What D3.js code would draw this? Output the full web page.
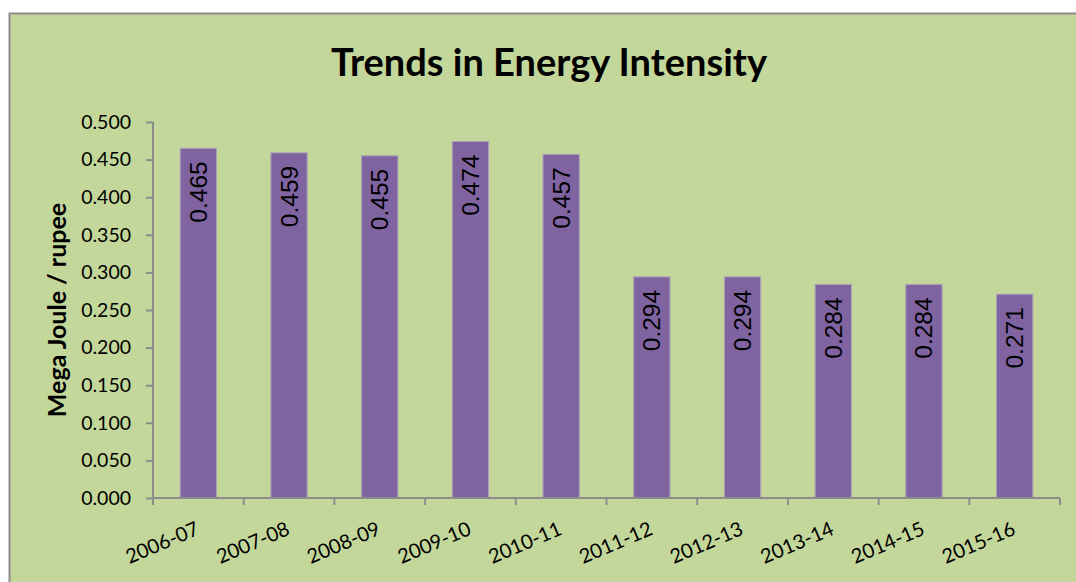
<!DOCTYPE html>
<html>
  <head>
    <meta charset="utf-8">
    <title>Trends in Energy Intensity</title>
    <script type="text/javascript" src="https://d3js.org/d3.v7.min.js"></script>
    <style media="screen">
      body { margin: 0; background: #fff; }
      svg { display: block; }
    </style>
  </head>
  <body>
    <div class="vis"></div>
    <script type="text/javascript">
      var years = ["2006-07", "2007-08", "2008-09", "2009-10", "2010-11",
                   "2011-12", "2012-13", "2013-14", "2014-15", "2015-16"];
      var intensity = [0.465, 0.459, 0.455, 0.474, 0.457,
                       0.294, 0.294, 0.284, 0.284, 0.271];
      var yTicks = [0, 0.05, 0.1, 0.15, 0.2, 0.25, 0.3, 0.35, 0.4, 0.45, 0.5];

      var w = 1076;
      var h = 582;
      var plotL = 153, plotR = 1060, plotT = 122, plotB = 498;

      var dataset = years.map(function(y, i) { return {year: y, value: intensity[i]}; });

      var svg = d3.select('.vis')
        .append('svg')
        .attr('width', w)
        .attr('height', h);

      // chart area
      svg.append('rect')
        .attr('x', 9.5).attr('y', 13.5)
        .attr('width', w).attr('height', h)
        .attr('fill', '#c4d79b')
        .attr('stroke', '#8c8c8c')
        .attr('stroke-width', 2);

      var xscale = d3.scaleBand()
        .domain(years)
        .range([plotL, plotR])
        .paddingInner(0.6)
        .paddingOuter(0.3);

      var yscale = d3.scaleLinear()
        .domain([0, 0.5])
        .range([plotB, plotT]);

      svg.append('text')
        .attr('x', 549).attr('y', 76)
        .attr('text-anchor', 'middle')
        .style('font-family', 'Lato, "Open Sans", sans-serif')
        .style('font-weight', 'bold')
        .style('font-size', '38px')
        .text('Trends in Energy Intensity');

      svg.selectAll('rect.bar')
        .data(dataset)
        .enter()
        .append('rect')
        .attr('class', 'bar')
        .attr('x', function(d) { return xscale(d.year); })
        .attr('y', function(d) { return yscale(d.value); })
        .attr('width', xscale.bandwidth())
        .attr('height', function(d) { return plotB - yscale(d.value); })
        .attr('fill', '#8064a2')
        .attr('stroke', '#a9a0b8')
        .attr('stroke-width', 1);

      svg.selectAll('text.val')
        .data(dataset)
        .enter()
        .append('text')
        .attr('class', 'val')
        .attr('transform', function(d) {
          var cx = xscale(d.year) + xscale.bandwidth() / 2;
          return 'translate(' + (cx + 8.5) + ',' + (yscale(d.value) + 13) + ') rotate(-90)';
        })
        .attr('text-anchor', 'end')
        .style('font-family', '"Liberation Sans", Arial, sans-serif')
        .style('font-size', '24.5px')
        .text(function(d) { return d3.format('.3f')(d.value); });

      var yAxis = d3.axisLeft(yscale)
        .tickValues(yTicks)
        .tickFormat(d3.format('.3f'))
        .tickSize(7)
        .tickPadding(15);

      var xAxis = d3.axisBottom(xscale)
        .tickSize(0)
        .tickFormat('');

      var gy = svg.append('g')
        .attr('transform', 'translate(' + plotL + ',0)')
        .call(yAxis);
      gy.select('.domain').attr('d', 'M0,' + plotT + 'V' + plotB);

      var gx = svg.append('g')
        .attr('transform', 'translate(0,' + plotB + ')')
        .call(xAxis);
      gx.select('.domain').attr('d', 'M' + plotL + ',0H' + plotR);

      // category boundary ticks
      var step = xscale.step();
      gx.selectAll('line.sep')
        .data(d3.range(years.length + 1))
        .enter()
        .append('line')
        .attr('class', 'sep')
        .attr('x1', function(i) { return plotL + i * step; })
        .attr('x2', function(i) { return plotL + i * step; })
        .attr('y1', 0).attr('y2', 7);

      svg.selectAll('.domain, .tick line, line.sep')
        .attr('stroke', '#8c8c8c')
        .attr('stroke-width', 2);

      gy.selectAll('.tick text')
        .style('font-family', 'Lato, "Open Sans", sans-serif')
        .style('font-size', '19.5px')
        .attr('fill', '#000');

      gx.selectAll('.tick text').remove();
      svg.selectAll('text.xl')
        .data(years)
        .enter()
        .append('text')
        .attr('class', 'xl')
        .attr('transform', function(d) {
          return 'translate(' + (xscale(d) + xscale.bandwidth() / 2 + 2) + ',' + (plotB + 36) + ') rotate(-23)';
        })
        .attr('text-anchor', 'end')
        .style('font-family', 'Lato, "Open Sans", sans-serif')
        .style('font-size', '20px')
        .text(function(d) { return d; });

      svg.append('text')
        .attr('transform', 'translate(66,310) rotate(-90)')
        .attr('text-anchor', 'middle')
        .style('font-family', 'Lato, "Open Sans", sans-serif')
        .style('font-weight', 'bold')
        .style('font-size', '25px')
        .text('Mega Joule / rupee');
    </script>
  </body>
</html>
